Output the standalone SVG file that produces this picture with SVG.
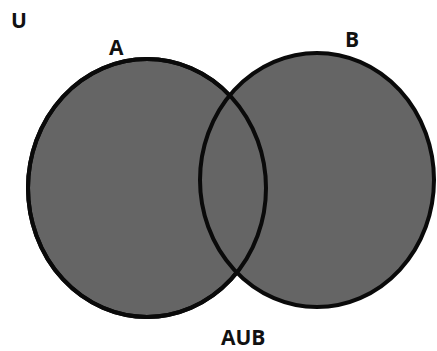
<svg xmlns="http://www.w3.org/2000/svg" width="437" height="351" viewBox="0 0 437 351">
<style>
.set{fill:#656565;stroke:#0a0a0a;stroke-width:4}
.lbl{font-family:"Open Sans","Liberation Sans",sans-serif;font-weight:bold;font-size:21px;fill:#111}
</style>
<rect width="437" height="351" fill="#fff"/>
<g id="setA"><ellipse class="set" cx="147" cy="188" rx="119" ry="129"/></g>
<g id="setB"><ellipse class="set" cx="317" cy="180" rx="117" ry="127"/></g>
<g id="outlineA"><ellipse cx="147" cy="188" rx="119" ry="129" fill="none" stroke="#0a0a0a" stroke-width="4"/></g>
<g id="connectors"></g>
<g id="labels">
<text class="lbl" x="11" y="28">U</text>
<text class="lbl" x="109" y="55">A</text>
<text class="lbl" x="345" y="47">B</text>
<text class="lbl" x="221" y="345">AUB</text>
</g>
</svg>
